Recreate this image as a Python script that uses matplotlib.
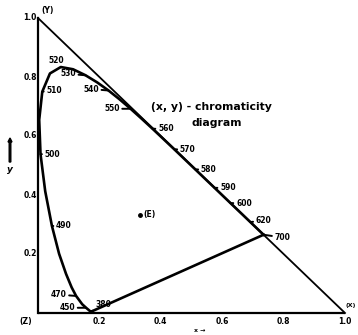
import numpy as np
import matplotlib
matplotlib.use("Agg")
import matplotlib.pyplot as plt

# CIE 1931 spectral locus (wavelength nm, x, y)
wavelengths = [380, 400, 420, 430, 440, 450, 460, 470, 475, 480, 485, 490, 495,
               500, 505, 510, 515, 520, 525, 530, 535, 540, 545, 550, 555, 560,
               565, 570, 575, 580, 585, 590, 595, 600, 605, 610, 615, 620, 630,
               640, 650, 660, 700]
locus_x = [0.1741, 0.1733, 0.1714, 0.1689, 0.1644, 0.1566, 0.1440, 0.1241, 0.1096,
           0.0913, 0.0687, 0.0454, 0.0235, 0.0082, 0.0039, 0.0139, 0.0389, 0.0743,
           0.1142, 0.1547, 0.1929, 0.2296, 0.2658, 0.3016, 0.3373, 0.3731, 0.4087,
           0.4441, 0.4788, 0.5125, 0.5448, 0.5752, 0.6029, 0.6270, 0.6482, 0.6658,
           0.6801, 0.6915, 0.7079, 0.7190, 0.7260, 0.7300, 0.7347]
locus_y = [0.0050, 0.0048, 0.0051, 0.0069, 0.0109, 0.0177, 0.0297, 0.0578, 0.0868,
           0.1327, 0.2007, 0.2950, 0.4127, 0.5384, 0.6548, 0.7502, 0.8120, 0.8338,
           0.8262, 0.8059, 0.7816, 0.7543, 0.7243, 0.6923, 0.6589, 0.6245, 0.5896,
           0.5547, 0.5202, 0.4866, 0.4544, 0.4242, 0.3965, 0.3725, 0.3514, 0.3340,
           0.3197, 0.3083, 0.2920, 0.2809, 0.2740, 0.2700, 0.2653]

# Primaries of the XYZ system at the triangle corners
primary_names = ["(X)", "(Y)", "(Z)"]
primary_x = [1.0, 0.0, 0.0]
primary_y = [0.0, 1.0, 0.0]

# Equal-energy white point
white_x, white_y = 0.333, 0.333
white_label = "(E)"

# Wavelength labels on the locus, with text offsets in points
marked_nm = [380, 450, 470, 490, 500, 510, 520, 530, 540, 550,
             560, 570, 580, 590, 600, 620, 700]
label_off = [(3, 5), (-8, 0), (-7, 1), (3, 0), (3, 0), (3, 1), (-3, 5), (-7, 1),
             (-7, 1), (-8, 0), (4, 0), (4, 0), (4, 0), (4, 0), (4, 0), (4, 1), (8, -2)]

tick_values = [0.2, 0.4, 0.6, 0.8]

W, H = 358, 335
fig = plt.figure(figsize=(W / 100, H / 100), dpi=100)
ax = fig.add_axes([38 / W, (H - 313) / H, 307 / W, 295 / H])
ax.set_xlim(0, 1)
ax.set_ylim(0, 1)
ax.axis("off")

bold = dict(fontweight="heavy", fontsize=5.5, color="black", family="DejaVu Sans")

# Triangle of primaries
ax.plot([primary_x[2], primary_x[0]], [primary_y[2], primary_y[0]], color="black", lw=1.6,
        solid_capstyle="butt", clip_on=False)
ax.plot([primary_x[2], primary_x[1]], [primary_y[2], primary_y[1]], color="black", lw=1.6,
        clip_on=False)
ax.plot([primary_x[1], primary_x[0]], [primary_y[1], primary_y[0]], color="black", lw=1.3,
        clip_on=False)

# Spectral locus and purple line
ax.plot(locus_x, locus_y, color="black", lw=1.9, solid_joinstyle="round", clip_on=False)
ax.plot([locus_x[0], locus_x[-1]], [locus_y[0], locus_y[-1]], color="black", lw=1.9,
        clip_on=False)

# Wavelength labels with short leader dashes
for nm, (dx, dy) in zip(marked_nm, label_off):
    i = wavelengths.index(nm)
    ha = "left" if dx >= 0 else "right"
    if nm == 520:
        ha = "center"
    ax.annotate(str(nm), (locus_x[i], locus_y[i]), xytext=(dx, dy),
                textcoords="offset points", ha=ha, va="center",
                arrowprops=dict(arrowstyle="-", lw=1.4, color="black",
                                shrinkA=0, shrinkB=0) if nm != 520 else None,
                **bold)

# Axis value labels
for v in tick_values:
    ax.text(v, -0.03, f"{v:.1f}", ha="center", va="center", **bold)
    ax.text(-0.004, v, f"{v:.1f}", ha="right", va="center", **bold)
ax.text(1.0, -0.03, "1.0", ha="center", va="center", **bold)
ax.text(-0.004, 1.0, "1.0", ha="right", va="center", **bold)

# Primary corner labels
ax.text(primary_x[0] + 0.017, primary_y[0] + 0.027, primary_names[0], ha="center",
        va="center", fontweight="heavy", fontsize=4.5)
ax.text(primary_x[1] + 0.01, primary_y[1] + 0.025, primary_names[1], ha="left", va="center", **bold)
ax.text(primary_x[2] - 0.02, primary_y[2] - 0.03, primary_names[2], ha="right", va="center", **bold)

# White point
ax.plot([white_x], [white_y], "o", color="black", ms=2.5, clip_on=False)
ax.annotate(white_label, (white_x, white_y), xytext=(2, 0), textcoords="offset points",
            ha="left", va="center", **bold)

# Title inside the plot
ax.text(0.564, 0.70, "(x, y) - chromaticity", ha="center", va="center",
        fontweight="heavy", fontsize=7.8, family="DejaVu Sans")
ax.text(0.583, 0.644, "diagram", ha="center", va="center",
        fontweight="heavy", fontsize=7.8, family="DejaVu Sans")

# Axis names with arrows
fig.text(10 / W, 1 - 170 / H, "y", ha="center", va="center", fontsize=6.5,
         fontweight="heavy", style="italic")
fig.patches.append(matplotlib.patches.FancyArrow(10 / W, 1 - 162 / H, 0, 20 / H,
                   width=1.6 / W, head_width=4 / W, head_length=4 / H, color="black",
                   transform=fig.transFigure, figure=fig))
fig.text(200 / W, 1 - 331 / H, "x \u2192", ha="center", va="center", fontsize=4.5,
         fontweight="heavy")

fig.savefig("out.png", dpi=100)
